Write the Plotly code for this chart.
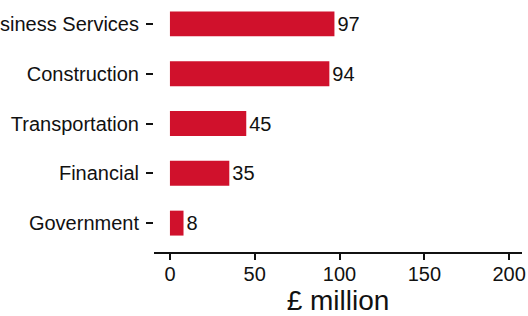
import plotly.graph_objects as go

categories = ["Business Services", "Construction", "Transportation", "Financial", "Government"]
values = [97, 94, 45, 35, 8]
x_ticks = [0, 50, 100, 150, 200]
x_title = "£ million"

BAR = "#D0112C"
INK = "#111111"
FONT = "Liberation Sans, Arial, sans-serif"

fig = go.Figure(
    go.Bar(
        x=values,
        y=categories,
        orientation="h",
        marker=dict(color=BAR, line=dict(width=0)),
        text=[str(v) for v in values],
        textposition="outside",
        textfont=dict(size=20, color=INK, family=FONT),
        cliponaxis=False,
        constraintext="none",
        hoverinfo="skip",
    )
)

fig.update_layout(
    width=528,
    height=316,
    margin=dict(l=154, r=6, t=0, b=64),
    paper_bgcolor="white",
    plot_bgcolor="white",
    bargap=0.5,
    showlegend=False,
    font=dict(family=FONT, color=INK, size=20),
)

fig.update_xaxes(
    range=[-9.4, 207.6],
    tickvals=x_ticks,
    ticktext=[str(t) for t in x_ticks],
    showgrid=False,
    zeroline=False,
    showline=True,
    linewidth=2,
    linecolor=INK,
    ticks="outside",
    ticklen=6,
    tickwidth=2,
    tickcolor=INK,
    ticklabelstandoff=-3,
    tickfont=dict(size=20, color=INK, family=FONT),
    title=dict(text=x_title, font=dict(size=28, color=INK, family=FONT), standoff=9),
    automargin=False,
)

fig.update_yaxes(
    categoryorder="array",
    categoryarray=categories,
    range=[4.58, -0.48],
    showgrid=False,
    zeroline=False,
    showline=False,
    ticks="outside",
    ticklen=7,
    tickwidth=2,
    tickcolor=INK,
    ticklabelstandoff=3,
    tickfont=dict(size=20, color=INK, family=FONT),
    automargin=False,
)

fig.write_html(
    "out.html",
    config={"displayModeBar": False},
    post_script="document.body.style.margin='0';document.body.style.overflow='hidden';",
)
